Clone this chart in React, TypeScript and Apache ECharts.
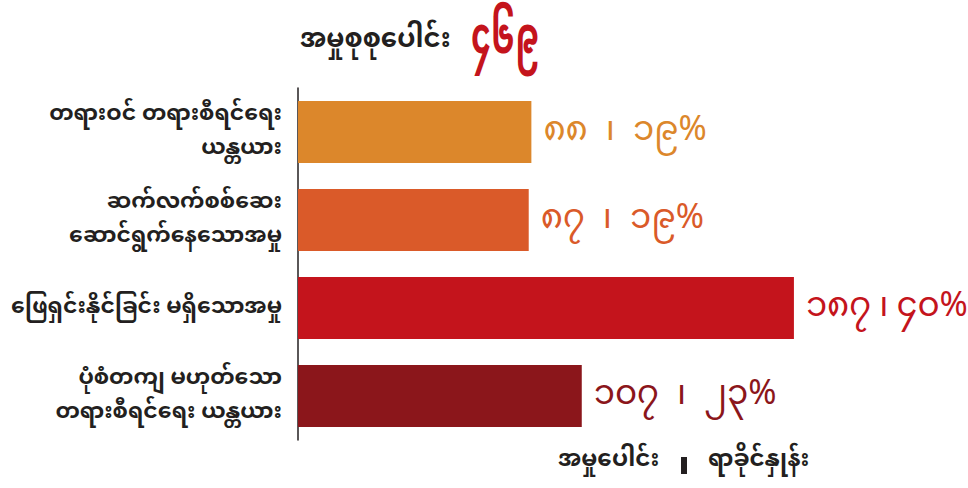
import React, { useEffect, useRef } from "react";
import * as echarts from "echarts";

const categories = [
  "တရားဝင် တရားစီရင်ရေး\nယန္တယား",
  "ဆက်လက်စစ်ဆေး\nဆောင်ရွက်နေသောအမှု",
  "ဖြေရှင်းနိုင်ခြင်း မရှိသောအမှု",
  "ပုံစံတကျ မဟုတ်သော\nတရားစီရင်ရေး ယန္တယား",
];
const caseCounts = [88, 87, 187, 107];
const percents = [19, 19, 40, 23];
const barColors = ["#DC872B", "#DA5A29", "#C4141C", "#8B161B"];
const totalLabel = "အမှုစုစုပေါင်း";
const totalValue = 469;
const legendLeft = "အမှုပေါင်း";
const legendRight = "ရာခိုင်နှုန်း";

const FONT = '"Noto Sans Myanmar", "Padauk", "Myanmar Text", "Noto Sans", sans-serif';

const toMy = (n: number) =>
  String(n).replace(/[0-9]/g, (d) => String.fromCharCode(0x1040 + Number(d)));

export default function App() {
  const ref = useRef<HTMLDivElement>(null);
  useEffect(() => {
    const chart = echarts.init(ref.current!, null, { renderer: "svg" });
    chart.setOption({
      animation: false,
      grid: { left: 298, top: 88, width: 663, height: 352, containLabel: false },
      xAxis: {
        type: "value",
        min: 0,
        max: 250,
        show: false,
      },
      yAxis: {
        type: "category",
        data: categories,
        inverse: true,
        axisLine: { show: true, lineStyle: { color: "#231F20", width: 1.5 } },
        axisTick: { show: false },
        axisLabel: {
          margin: 16,
          color: "#231F20",
          fontFamily: FONT,
          fontSize: 22,
          fontWeight: "bold",
          lineHeight: 34,
          align: "right",
        },
      },
      series: [
        {
          type: "bar",
          barWidth: 62,
          data: caseCounts.map((v, i) => ({
            value: v,
            itemStyle: { color: barColors[i] },
            label: {
              show: true,
              position: "right",
              distance: 12,
              formatter: () => `{n|${toMy(v)}}{s|၊}{n|${toMy(percents[i])}%}`,
              rich: {
                n: { color: barColors[i], fontFamily: FONT, fontSize: 34 },
                s: {
                  color: barColors[i],
                  fontFamily: FONT,
                  fontSize: 34,
                  padding: i === 2 ? [0, 8, 0, 8] : [0, 18, 0, 18],
                },
              },
            },
          })),
        },
      ],
      graphic: [
        {
          type: "text",
          left: 300,
          top: 28,
          style: {
            text: totalLabel,
            fill: "#231F20",
            font: `bold 26px ${FONT}`,
          },
        },
        {
          type: "text",
          x: 471,
          y: 16,
          scaleX: 0.8,
          scaleY: 1.25,
          style: {
            text: toMy(totalValue),
            fill: "#C4141C",
            font: `bold 40px ${FONT}`,
          },
        },
        {
          type: "text",
          left: 558,
          top: 449,
          style: {
            text: legendLeft,
            fill: "#231F20",
            font: `bold 23px ${FONT}`,
          },
        },
        {
          type: "rect",
          shape: { x: 681, y: 457, width: 6, height: 17 },
          style: { fill: "#231F20" },
        },
        {
          type: "text",
          left: 708,
          top: 449,
          style: {
            text: legendRight,
            fill: "#231F20",
            font: `bold 23px ${FONT}`,
          },
        },
      ],
    });
    return () => chart.dispose();
  }, []);
  return <div ref={ref} style={{ width: 968, height: 488, position: "absolute", left: 0, top: 0 }} />;
}
